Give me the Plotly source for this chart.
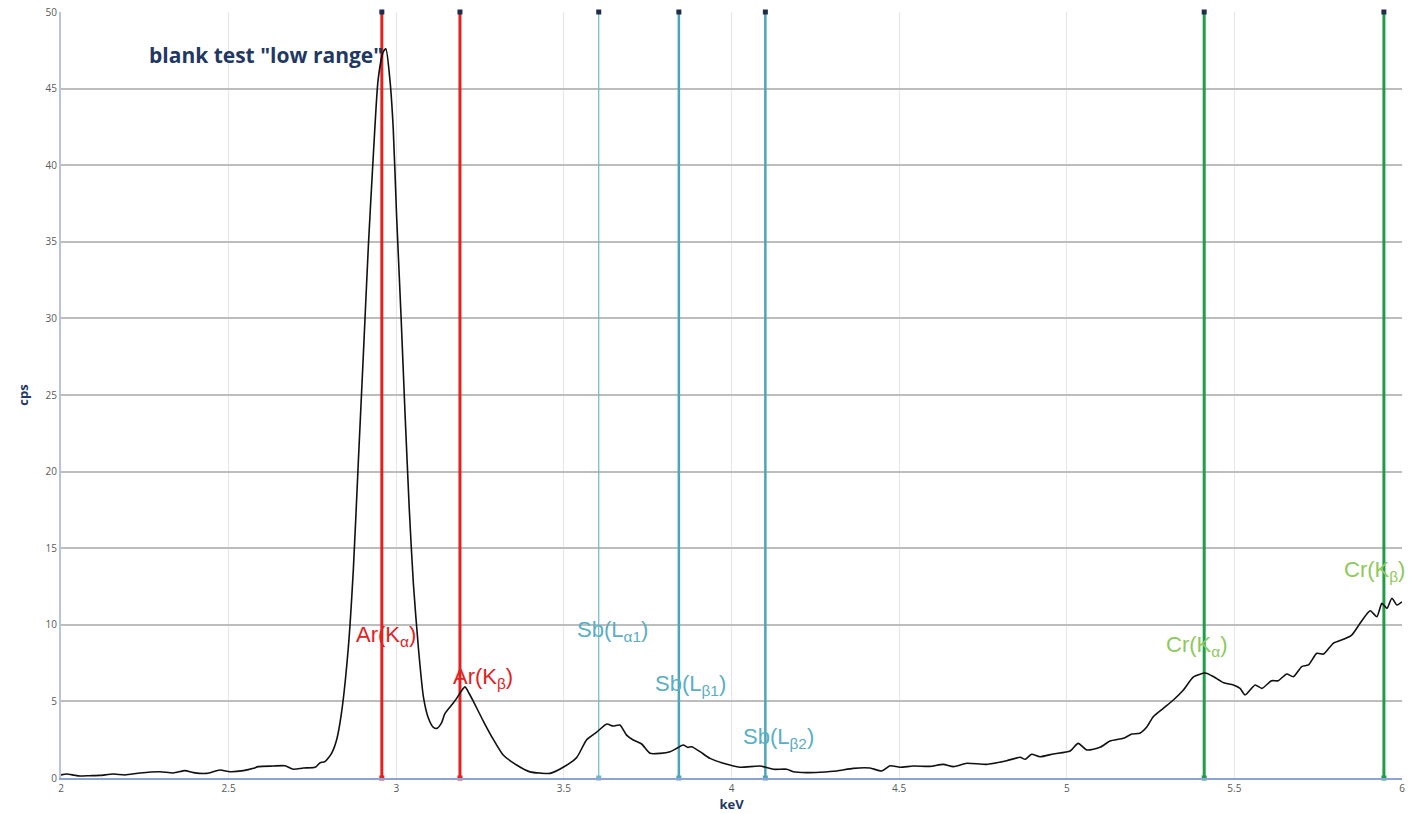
import plotly.graph_objects as go

# Spectrum: energy (keV) vs count rate (cps)
energy_kev = [
    2.000, 2.017, 2.040, 2.057, 2.085, 2.116, 2.156, 2.191, 2.236, 2.295,
    2.335, 2.370, 2.395, 2.435, 2.474, 2.504, 2.544, 2.574, 2.588, 2.633,
    2.668, 2.693, 2.723, 2.758, 2.773, 2.787, 2.807, 2.822, 2.837, 2.857,
    2.872, 2.887, 2.902, 2.917, 2.932, 2.946, 2.961, 2.969, 2.981, 2.991,
    3.001, 3.014, 3.026, 3.039, 3.051, 3.066, 3.081, 3.096, 3.111, 3.121,
    3.135, 3.145, 3.170, 3.180, 3.195, 3.205, 3.218, 3.230, 3.260, 3.290,
    3.319, 3.359, 3.399, 3.430, 3.459, 3.498, 3.538, 3.568, 3.598, 3.628,
    3.647, 3.667, 3.687, 3.707, 3.732, 3.757, 3.787, 3.817, 3.837, 3.856,
    3.870, 3.881, 3.906, 3.936, 3.976, 4.025, 4.085, 4.125, 4.165, 4.184,
    4.224, 4.264, 4.314, 4.363, 4.413, 4.448, 4.473, 4.503, 4.542, 4.592,
    4.632, 4.662, 4.702, 4.761, 4.821, 4.861, 4.876, 4.895, 4.920, 4.960,
    5.010, 5.034, 5.060, 5.099, 5.129, 5.169, 5.194, 5.218, 5.238, 5.258,
    5.288, 5.318, 5.348, 5.378, 5.413, 5.438, 5.468, 5.497, 5.517, 5.532,
    5.562, 5.582, 5.611, 5.631, 5.656, 5.676, 5.701, 5.721, 5.746, 5.766,
    5.795, 5.825, 5.850, 5.875, 5.905, 5.925, 5.940, 5.955, 5.970, 5.985,
    6.000,
]
count_rate_cps = [
    0.20, 0.26, 0.18, 0.13, 0.15, 0.17, 0.26, 0.20, 0.33, 0.41,
    0.33, 0.48, 0.35, 0.30, 0.52, 0.41, 0.48, 0.63, 0.74, 0.78,
    0.80, 0.57, 0.65, 0.70, 1.00, 1.07, 1.61, 2.48, 4.30, 8.50,
    13.6, 20.7, 27.7, 34.8, 40.8, 45.6, 47.4, 47.6, 45.6, 42.4,
    36.7, 30.3, 23.9, 17.5, 12.7, 8.50, 5.30, 3.90, 3.30, 3.24,
    3.60, 4.20, 4.90, 5.20, 5.70, 5.95, 5.50, 5.00, 3.70, 2.50,
    1.50, 0.85, 0.40, 0.32, 0.30, 0.70, 1.33, 2.50, 3.00, 3.52,
    3.39, 3.46, 2.80, 2.48, 2.22, 1.61, 1.61, 1.72, 1.94, 2.15,
    2.00, 2.04, 1.72, 1.28, 0.96, 0.70, 0.78, 0.57, 0.57, 0.41,
    0.35, 0.38, 0.46, 0.63, 0.65, 0.46, 0.80, 0.70, 0.78, 0.76,
    0.89, 0.74, 0.96, 0.89, 1.13, 1.35, 1.22, 1.55, 1.39, 1.57,
    1.76, 2.26, 1.83, 2.00, 2.41, 2.59, 2.87, 2.92, 3.31, 4.00,
    4.55, 5.09, 5.74, 6.60, 6.85, 6.61, 6.22, 6.07, 5.85, 5.42,
    6.07, 5.85, 6.35, 6.35, 6.79, 6.61, 7.27, 7.38, 8.14, 8.09,
    8.79, 9.05, 9.33, 10.1, 10.92, 10.53, 11.4, 11.07, 11.73, 11.29,
    11.5,
]

# Characteristic emission lines
line_names = ["Ar(K<sub>α</sub>)", "Ar(K<sub>β</sub>)",
              "Sb(L<sub>α1</sub>)", "Sb(L<sub>β1</sub>)", "Sb(L<sub>β2</sub>)",
              "Cr(K<sub>α</sub>)", "Cr(K<sub>β</sub>)"]
line_energy = [2.957, 3.190, 3.604, 3.843, 4.101, 5.410, 5.946]
label_x = [2.969, 3.259, 3.644, 3.879, 4.139, 5.386, 5.917]
label_y = [9.27, 6.53, 9.60, 6.07, 2.61, 8.62, 13.5]

line_colors = ["#e3211f", "#e3211f", "#6fb8c8", "#4ea6b5", "#4ea6b5", "#1f9e4a", "#1f9e4a"]
line_widths = [3, 3, 1.2, 2.5, 2.5, 3, 3]
label_colors = ["#e3211f", "#e3211f", "#5aaec4", "#5aaec4", "#5aaec4", "#8dc95c", "#8dc95c"]

Y_TOP = 50

fig = go.Figure()

for xe, col, w in zip(line_energy, line_colors, line_widths):
    fig.add_trace(go.Scatter(
        x=[xe, xe], y=[0, Y_TOP], mode="lines+markers",
        line=dict(color=col, width=w),
        marker=dict(color=[col, "#1f2d4a"], size=5, symbol="square"),
        hoverinfo="skip", showlegend=False, cliponaxis=False,
    ))

fig.add_trace(go.Scatter(
    x=energy_kev, y=count_rate_cps, mode="lines",
    line=dict(color="#111111", width=1.6, shape="spline", smoothing=0.6),
    showlegend=False,
))

for name, lx, ly, lc in zip(line_names, label_x, label_y, label_colors):
    fig.add_annotation(x=lx, y=ly, text=name, showarrow=False,
                       xanchor="center", yanchor="middle",
                       font=dict(family="Liberation Sans, Arial", size=22, color=lc))

fig.add_annotation(x=2.611, y=47.2, text='<b>blank test "low range"</b>',
                   showarrow=False, xanchor="center", yanchor="middle",
                   font=dict(family="Open Sans, Liberation Sans", size=21, color="#1f3864"))

fig.update_layout(
    width=1415, height=814,
    margin=dict(l=61, r=13, t=12, b=36),
    plot_bgcolor="white", paper_bgcolor="white",
    font=dict(family="Open Sans, Liberation Sans", size=10, color="#595959"),
    xaxis=dict(
        range=[2, 6], tickvals=[2, 2.5, 3, 3.5, 4, 4.5, 5, 5.5, 6],
        ticktext=["2", "2.5", "3", "3.5", "4", "4.5", "5", "5.5", "6"],
        showgrid=True, gridcolor="#e4e6ee", gridwidth=1,
        showline=True, linecolor="#8ea3d4", linewidth=2,
        zeroline=False, ticks="", automargin=False,
        title=dict(text="<b>keV</b>", standoff=2,
                   font=dict(size=13, color="#1f3864")),
    ),
    yaxis=dict(
        range=[0, 50], tickvals=list(range(0, 51, 5)),
        showgrid=True, gridcolor="#bdbdbd", gridwidth=2,
        showline=True, linecolor="#b6c2de", linewidth=2,
        zeroline=False, ticks="", automargin=False,
        title=dict(text="<b>cps</b>", standoff=14,
                   font=dict(size=13, color="#1f3864")),
    ),
)

fig.write_html("out.html")
